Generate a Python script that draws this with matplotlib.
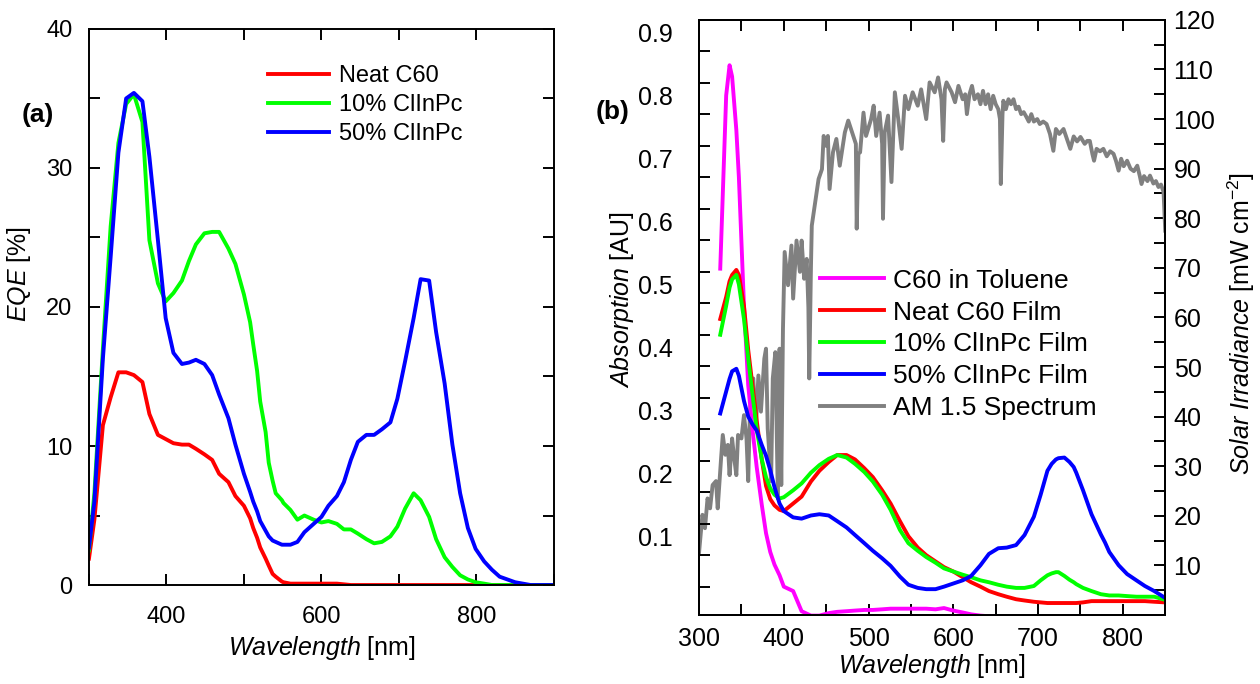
"""EQE and absorption spectra of C60 / ClInPc films, two panels side by side"""

import matplotlib
matplotlib.use("Agg")
import matplotlib.pyplot as plt
from matplotlib.ticker import MultipleLocator, FixedLocator

plt.rcParams['font.family'] = ['Liberation Sans', 'DejaVu Sans']
plt.rcParams['mathtext.fontset'] = 'custom'
plt.rcParams['mathtext.rm'] = 'Liberation Sans'
plt.rcParams['mathtext.it'] = 'Liberation Sans:italic'

# ---- panel (a): EQE ----
eqe_wl = [300, 307, 318, 328, 338, 348, 358, 369, 378, 389, 399, 409, 420, 429, 438,
          449, 459, 468, 480, 489, 500, 508, 512, 517, 521, 528, 532, 537, 541, 549,
          551, 560, 569, 578, 590, 600, 609, 620, 629, 638, 647, 658, 668, 678, 689,
          698, 708, 719, 728, 739, 748, 759, 769, 779, 789, 799, 810, 820, 830, 840,
          850, 860, 870, 900]
eqe_neat = [1.9, 4.7, 11.5, 13.5, 15.3, 15.3, 15.1, 14.6, 12.3, 10.8, 10.5, 10.2, 10.1, 10.1, 9.8,
            9.4, 9.0, 8.0, 7.4, 6.4, 5.7, 4.8, 4.1, 3.4, 2.7, 1.9, 1.4, 0.8, 0.6, 0.25,
            0.2, 0.1, 0.1, 0.1, 0.1, 0.1, 0.1, 0.1, 0.05, 0.0, 0.0, 0.0, 0.0, 0.0, 0.0,
            0.0, 0.0, 0.0, 0.0, 0.0, 0.0, 0.0, 0.0, 0.0, 0.0, 0.0, 0.0, 0.0, 0.0, 0.0,
            0.0, 0.0, 0.0, 0.0]
eqe_10 = [2.5, 6.6, 17.0, 25.8, 31.8, 34.6, 35.3, 33.3, 24.8, 21.7, 20.4, 21.0, 21.9, 23.3, 24.5,
          25.3, 25.4, 25.4, 24.2, 23.1, 20.9, 18.9, 17.3, 15.4, 13.2, 11.0, 8.8, 7.5, 6.6, 6.1,
          5.9, 5.4, 4.7, 5.0, 4.7, 4.5, 4.6, 4.4, 4.0, 4.0, 3.7, 3.3, 3.0, 3.1, 3.5,
          4.2, 5.5, 6.6, 6.1, 4.9, 3.3, 2.0, 1.3, 0.7, 0.4, 0.2, 0.1, 0.0, 0.0, 0.0,
          0.0, 0.0, 0.0, 0.0]
eqe_50 = [2.7, 6.0, 16.3, 23.6, 31.1, 35.0, 35.4, 34.8, 30.8, 24.8, 19.2, 16.7, 15.9, 16.0, 16.2,
          15.9, 15.1, 13.7, 12.0, 10.1, 8.0, 6.7, 6.0, 5.3, 4.6, 3.9, 3.5, 3.2, 3.1, 2.9,
          2.9, 2.9, 3.1, 3.8, 4.4, 4.9, 5.7, 6.4, 7.4, 9.0, 10.3, 10.8, 10.8, 11.2, 11.7,
          13.4, 16.1, 19.2, 22.0, 21.9, 18.2, 14.5, 10.1, 6.6, 4.1, 2.6, 1.7, 1.1, 0.6, 0.4,
          0.2, 0.1, 0.0, 0.0]

# ---- panel (b): absorption ----
abs_wl = [325, 332, 336, 339, 344, 347, 353, 358, 363, 368, 374, 379, 384, 389, 395,
          400, 411, 421, 432, 442, 453, 463, 474, 484, 495, 505, 516, 526, 537, 547,
          558, 568, 579, 589, 600, 611, 621, 632, 642, 653, 663, 674, 684, 695, 703,
          711, 716, 721, 724, 731, 737, 742, 745, 753, 763, 774, 779, 784, 795, 805,
          816, 826, 837, 850]
abs_tol = [0.525, 0.80, 0.848, 0.83, 0.745, 0.67, 0.466, 0.34, 0.27, 0.21, 0.15, 0.105, 0.075, 0.055, 0.038,
           0.02, 0.013, -0.019, -0.026, -0.026, -0.022, -0.02, -0.019, -0.018, -0.017, -0.017, -0.016, -0.015, -0.015, -0.015,
           -0.015, -0.015, -0.016, -0.014, -0.018, -0.021, -0.024, -0.026, -0.027, -0.028, -0.028, -0.029, -0.029, -0.029, -0.029,
           -0.029, -0.029, -0.029, -0.029, -0.029, -0.029, -0.029, -0.029, -0.029, -0.029, -0.029, -0.029, -0.029, -0.029, -0.029,
           -0.029, -0.029, -0.029, -0.029]
abs_neat = [0.445, 0.48, 0.505, 0.515, 0.523, 0.515, 0.466, 0.396, 0.34, 0.284, 0.222, 0.18, 0.159, 0.149, 0.142,
            0.14, 0.152, 0.163, 0.187, 0.204, 0.218, 0.229, 0.229, 0.222, 0.208, 0.194, 0.173, 0.152, 0.124, 0.1,
            0.082, 0.07, 0.06, 0.051, 0.044, 0.035, 0.027, 0.02, 0.013, 0.008, 0.004, 0.0, -0.002, -0.004, -0.005,
            -0.006, -0.006, -0.006, -0.006, -0.006, -0.006, -0.006, -0.006, -0.005, -0.003, -0.003, -0.003, -0.003, -0.003, -0.003,
            -0.003, -0.003, -0.004, -0.005]
abs_10 = [0.42, 0.466, 0.495, 0.508, 0.515, 0.50, 0.445, 0.382, 0.326, 0.27, 0.222, 0.194, 0.176, 0.166, 0.16,
          0.162, 0.173, 0.184, 0.201, 0.213, 0.223, 0.229, 0.225, 0.215, 0.202, 0.187, 0.166, 0.142, 0.11, 0.089,
          0.077, 0.067, 0.058, 0.049, 0.044, 0.039, 0.035, 0.03, 0.027, 0.023, 0.02, 0.018, 0.018, 0.021, 0.03,
          0.038, 0.041, 0.043, 0.043, 0.037, 0.031, 0.027, 0.024, 0.018, 0.013, 0.008, 0.007, 0.006, 0.006, 0.005,
          0.004, 0.004, 0.004, -0.001]
abs_50 = [0.295, 0.33, 0.35, 0.362, 0.366, 0.355, 0.315, 0.29, 0.278, 0.268, 0.245, 0.228, 0.205, 0.178, 0.152,
          0.14, 0.13, 0.128, 0.133, 0.135, 0.133, 0.124, 0.114, 0.102, 0.089, 0.077, 0.065, 0.053, 0.036, 0.023,
          0.018, 0.016, 0.016, 0.02, 0.025, 0.03, 0.037, 0.054, 0.072, 0.081, 0.082, 0.086, 0.102, 0.131, 0.166,
          0.204, 0.215, 0.222, 0.224, 0.225, 0.218, 0.21, 0.201, 0.173, 0.135, 0.103, 0.09, 0.075, 0.054, 0.04,
          0.03, 0.021, 0.013, 0.002]

# AM 1.5 solar spectrum, right axis
am_wl = [300, 304, 307, 310, 313, 316, 320, 322, 326, 328, 331, 334, 336, 339, 341,
         344, 346, 350, 353, 356, 358, 360, 364, 367, 370, 373, 377, 379, 381, 385,
         387, 390, 393, 395, 397, 399, 401, 405, 409, 411, 415, 419, 421, 424, 427,
         429, 430, 432, 433, 437, 441, 445, 447, 450, 452, 454, 458, 462, 466, 472,
         476, 482, 485, 486, 488, 490, 494, 497, 503, 506, 509, 513, 516, 517, 519,
         523, 527, 531, 535, 539, 543, 547, 552, 558, 562, 568, 572, 578, 582, 586,
         588, 590, 592, 598, 602, 606, 611, 614, 616, 619, 622, 625, 629, 632, 635,
         638, 641, 644, 647, 650, 653, 655, 656, 658, 659, 662, 665, 668, 671, 674,
         677, 680, 683, 686, 689, 692, 695, 699, 702, 706, 710, 714, 718, 721, 725,
         730, 734, 738, 742, 746, 750, 755, 758, 761, 764, 766, 769, 773, 777, 781,
         785, 789, 792, 795, 798, 801, 805, 809, 813, 817, 820, 822, 825, 829, 832,
         836, 839, 842, 845, 848, 850]
am_irr = [12.6, 20.2, 17.5, 23.5, 21.5, 26.2, 27, 21.5, 31.6, 36.3, 32.3, 34.3, 28.2, 35.6, 32.3,
          28.2, 36.3, 35.6, 40.3, 35.6, 27, 41, 47.7, 37.6, 48.3, 41, 51.7, 53.7, 37.6, 27,
          47.7, 53, 23.5, 53.7, 26.2, 57.7, 73.2, 66.5, 74.5, 63.8, 75.5, 69.2, 75.5, 67.8, 71.8,
          62, 47.7, 70, 78.5, 83.2, 87.9, 89.9, 96.6, 94.6, 96.6, 85.9, 93.3, 96, 90.6, 97.3,
          99.7, 96.6, 95, 77.9, 93, 93.3, 101.3, 96.6, 100, 102.7, 96.6, 101.3, 95, 79.9, 97.3,
          100.7, 87.3, 105.4, 100, 94, 104.7, 102, 105.4, 102.7, 106, 100, 107.4, 105.4, 108.4, 104,
          95.6, 106, 107.4, 105.4, 103.4, 106.7, 104, 105, 101, 105, 106.7, 104, 105, 103, 105.7,
          103, 105, 102, 104.7, 103, 102, 100, 86.9, 101, 103.7, 102, 104, 103, 104, 102,
          102.5, 101, 101.4, 100.5, 99.5, 101, 99.5, 100, 99, 99.5, 99, 97, 93.6, 98, 97,
          98, 96, 94, 96.5, 95.5, 96.4, 95, 95.6, 95.6, 93, 91.6, 94, 93.5, 94, 92.5,
          93.5, 93, 91.5, 89.6, 92, 90.5, 91.6, 90, 89.5, 90.6, 88.5, 86.9, 88.5, 87.5, 88.6,
          87, 87.5, 86.3, 86.8, 85.3, 77.5]

RED, GREEN, BLUE, MAGENTA, GREY = '#ff0000', '#00ff00', '#0000ff', '#ff00ff', '#808080'
LW = 2.8
TICK_KW = dict(direction='in', length=8, width=1.4)

fig = plt.figure(figsize=(12.6, 6.84), dpi=100)

# ---------------- (a) ----------------
ax1 = fig.add_axes([0.0706, 0.1447, 0.369, 0.813])
ax1.plot(eqe_wl, eqe_neat, color=RED, lw=LW, label='Neat C60')
ax1.plot(eqe_wl, eqe_10, color=GREEN, lw=LW, label='10% ClInPc')
ax1.plot(eqe_wl, eqe_50, color=BLUE, lw=LW, label='50% ClInPc')
ax1.set_xlim(300, 900)
ax1.set_ylim(0, 40)
ax1.xaxis.set_major_locator(FixedLocator([400, 600, 800]))
ax1.xaxis.set_minor_locator(MultipleLocator(100))
ax1.yaxis.set_major_locator(MultipleLocator(10))
ax1.yaxis.set_minor_locator(MultipleLocator(5))
ax1.tick_params(which='both', top=True, right=True, labelsize=17, **TICK_KW)
ax1.tick_params(axis='x', which='both', pad=15)
ax1.tick_params(axis='y', which='both', pad=12)
for sp in ax1.spines.values():
    sp.set_linewidth(1.4)
ax1.set_xlabel(r'$\mathit{Wavelength}$ [nm]', fontsize=18)
ax1.set_ylabel(r'$\mathit{EQE}$ [%]', fontsize=18)
ax1.xaxis.set_label_coords(0.5, -0.088)
ax1.yaxis.set_label_coords(-0.12, 0.56)
ax1.legend(loc='upper left', bbox_to_anchor=(0.385, 0.935), frameon=False, fontsize=17,
           handlelength=2.6, handletextpad=0.4, labelspacing=0.3, borderpad=0, borderaxespad=0)
fig.text(0.030, 0.832, '(a)', fontsize=19, fontweight='bold', ha='center', va='center')

# ---------------- (b) ----------------
ax2 = fig.add_axes([0.5548, 0.1009, 0.370, 0.870])
ax3 = ax2.twinx()
h_tol, = ax2.plot(abs_wl, abs_tol, color=MAGENTA, lw=LW, label='C60 in Toluene')
h_neat, = ax2.plot(abs_wl, abs_neat, color=RED, lw=LW, label='Neat C60 Film')
h_10, = ax2.plot(abs_wl, abs_10, color=GREEN, lw=LW, label='10% ClInPc Film')
h_50, = ax2.plot(abs_wl, abs_50, color=BLUE, lw=LW, label='50% ClInPc Film')
h_am, = ax3.plot(am_wl, am_irr, color=GREY, lw=LW, label='AM 1.5 Spectrum')

ax2.set_xlim(300, 850)
ax2.set_ylim(-0.025, 0.92)
ax3.set_ylim(0, 120)
ax2.xaxis.set_major_locator(MultipleLocator(100))
ax2.xaxis.set_minor_locator(MultipleLocator(50))
# labels every 0.1, but the drawn ticks sit at 0.02 + n*0.05
ax2.yaxis.set_major_locator(FixedLocator([0.1, 0.2, 0.3, 0.4, 0.5, 0.6, 0.7, 0.8, 0.9]))
ax2.yaxis.set_minor_locator(FixedLocator([0.02 + 0.05 * i for i in range(18)]))
ax2.yaxis.set_major_formatter(plt.FormatStrFormatter('%.1f'))
ax2.tick_params(which='both', top=True, right=False, labelsize=18, **TICK_KW)
ax2.tick_params(axis='y', which='major', length=0, pad=19)
ax2.tick_params(axis='x', which='both', pad=9)
ax3.yaxis.set_major_locator(FixedLocator(list(range(10, 121, 10))))
ax3.yaxis.set_minor_locator(MultipleLocator(5))
ax3.tick_params(which='both', pad=6, labelsize=18, **TICK_KW)
for sp in list(ax2.spines.values()) + list(ax3.spines.values()):
    sp.set_linewidth(1.4)

ax2.set_xlabel(r'$\mathit{Wavelength}$ [nm]', fontsize=18)
ax2.set_ylabel(r'$\mathit{Absorption}$ [AU]', fontsize=18)
ax3.set_ylabel(r'$\mathit{Solar\ Irradiance}$ [mW cm$^{-2}$]', fontsize=18)
ax2.xaxis.set_label_coords(0.5, -0.062)
ax2.yaxis.set_label_coords(-0.135, 0.53)
ax3.yaxis.set_label_coords(1.13, 0.49)

ax2.legend(handles=[h_tol, h_neat, h_10, h_50, h_am], loc='upper left',
           bbox_to_anchor=(0.26, 0.582), frameon=False, fontsize=19,
           handlelength=2.4, handletextpad=0.35, labelspacing=0.3, borderpad=0, borderaxespad=0)
ax2.set_zorder(ax3.get_zorder() + 1)
ax2.patch.set_visible(False)
fig.text(0.486, 0.836, '(b)', fontsize=19, fontweight='bold', ha='center', va='center')

fig.savefig('out.png', dpi=100)
